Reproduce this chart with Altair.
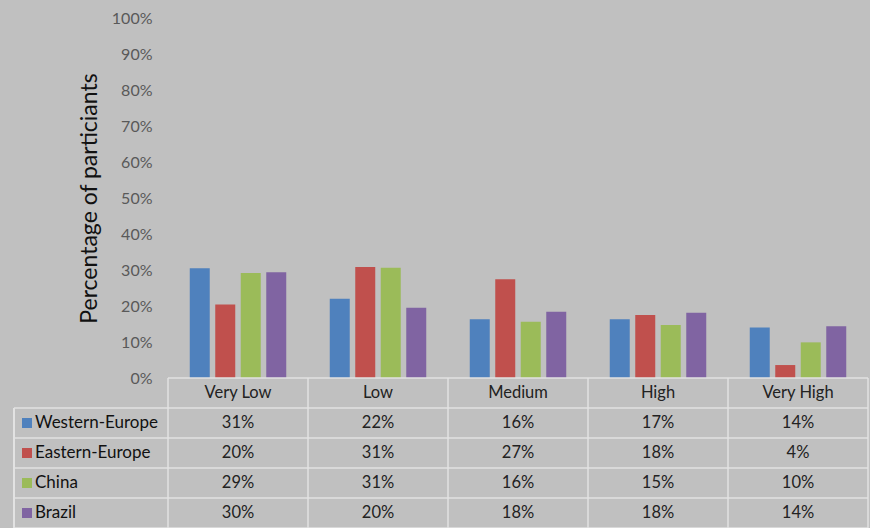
import altair as alt
import pandas as pd

categories = ["Very Low", "Low", "Medium", "High", "Very High"]
series = ["Western-Europe", "Eastern-Europe", "China", "Brazil"]
colors = ["#4f81bd", "#c0504d", "#9bbb59", "#8064a2"]

# bar heights (percent)
bar_values = {
    "Western-Europe": [30.5, 22.0, 16.3, 16.3, 14.0],
    "Eastern-Europe": [20.4, 30.8, 27.4, 17.5, 3.6],
    "China": [29.2, 30.6, 15.6, 14.7, 9.9],
    "Brazil": [29.4, 19.5, 18.4, 18.1, 14.4],
}
# values printed in the data table
table_values = {
    "Western-Europe": ["31%", "22%", "16%", "17%", "14%"],
    "Eastern-Europe": ["20%", "31%", "27%", "18%", "4%"],
    "China": ["29%", "31%", "16%", "15%", "10%"],
    "Brazil": ["30%", "20%", "18%", "18%", "14%"],
}
y_ticks = [0, 10, 20, 30, 40, 50, 60, 70, 80, 90, 100]

FONT = "Lato"
W, H = 700, 360
ROW_H = 30
LABEL_COL = 154
rows = ["header"] + series
GRID = "#e2e2e2"

bars_df = pd.DataFrame(
    [{"cat": c, "series": s, "value": bar_values[s][i] / 100}
     for s in series for i, c in enumerate(categories)]
)
cells_df = pd.DataFrame(
    [{"cat": c, "row": s, "label": table_values[s][i]}
     for s in series for i, c in enumerate(categories)]
)
header_df = pd.DataFrame({"cat": categories, "row": ["header"] * len(categories)})
rowlab_df = pd.DataFrame({"row": series, "series": series})

x_enc = alt.X("cat:N", sort=categories,
              scale=alt.Scale(domain=categories, paddingInner=0, paddingOuter=0),
              axis=None)

bars = alt.Chart(bars_df).mark_bar().encode(
    x=x_enc,
    xOffset=alt.XOffset("series:N", sort=series,
                        scale=alt.Scale(domain=series, paddingInner=0.216, paddingOuter=0.853)),
    y=alt.Y("value:Q",
            scale=alt.Scale(domain=[0, 1], nice=False),
            axis=alt.Axis(values=[v / 100 for v in y_ticks], format=".0%",
                          grid=False, domain=False, ticks=False,
                          labelPadding=16, labelFontSize=16, labelColor="#595959",
                          labelFont=FONT,
                          title="Percentage of particiants", titleFont=FONT,
                          titleFontSize=23, titleFontWeight="normal",
                          titleColor="#111111", titlePadding=10)),
    color=alt.Color("series:N", sort=series,
                    scale=alt.Scale(domain=series, range=colors), legend=None),
)

tab_scale = alt.Scale(domain=rows, range=[H, H + ROW_H * len(rows)],
                      paddingInner=0, paddingOuter=0)
y_tab = alt.Y("row:N", sort=rows, scale=tab_scale, axis=None)

hline_header = alt.Chart(pd.DataFrame({"row": ["header"]})).mark_rule(
    color=GRID, strokeWidth=1.5).encode(
    y=alt.Y("row:N", sort=rows, bandPosition=0, scale=tab_scale, axis=None),
    x=alt.value(0), x2=alt.value(W))
hline_rows = alt.Chart(pd.DataFrame({"row": series})).mark_rule(
    color=GRID, strokeWidth=1.5).encode(
    y=alt.Y("row:N", sort=rows, bandPosition=0, scale=tab_scale, axis=None),
    x=alt.value(-LABEL_COL), x2=alt.value(W))
hline_bottom = alt.Chart(pd.DataFrame({"row": ["Brazil"]})).mark_rule(
    color=GRID, strokeWidth=1.5).encode(
    y=alt.Y("row:N", sort=rows, bandPosition=1, scale=tab_scale, axis=None),
    x=alt.value(-LABEL_COL), x2=alt.value(W))

vlines = alt.Chart(pd.DataFrame({"cat": categories})).mark_rule(
    color=GRID, strokeWidth=1.5).encode(
    x=alt.X("cat:N", sort=categories, bandPosition=0,
            scale=alt.Scale(domain=categories, paddingInner=0, paddingOuter=0), axis=None),
    y=alt.value(H), y2=alt.value(H + ROW_H * len(rows)))
vline_right = alt.Chart(pd.DataFrame({"cat": [categories[-1]]})).mark_rule(
    color=GRID, strokeWidth=1.5).encode(
    x=alt.X("cat:N", sort=categories, bandPosition=1,
            scale=alt.Scale(domain=categories, paddingInner=0, paddingOuter=0), axis=None),
    y=alt.value(H), y2=alt.value(H + ROW_H * len(rows)))
vline_left = alt.Chart(pd.DataFrame({"row": series})).mark_rule(
    color=GRID, strokeWidth=1.5).encode(
    x=alt.value(-LABEL_COL), x2=alt.value(-LABEL_COL),
    y=alt.value(H + ROW_H), y2=alt.value(H + ROW_H * len(rows)))

header_text = alt.Chart(header_df).mark_text(
    font=FONT, fontSize=16.5, color="#222222", baseline="middle").encode(
    x=x_enc, y=y_tab, text="cat:N")

cell_text = alt.Chart(cells_df).mark_text(
    font=FONT, fontSize=16.5, color="#222222", baseline="middle").encode(
    x=x_enc, y=y_tab, text="label:N")

swatches = alt.Chart(rowlab_df).mark_square(size=100, opacity=1).encode(
    x=alt.value(-LABEL_COL + 13), y=y_tab,
    color=alt.Color("series:N", sort=series,
                    scale=alt.Scale(domain=series, range=colors), legend=None))

row_text = alt.Chart(rowlab_df).mark_text(
    font=FONT, fontSize=17, color="#111111", align="left", baseline="middle").encode(
    x=alt.value(-LABEL_COL + 21), y=y_tab, text="series:N")

table = alt.layer(hline_header, hline_rows, hline_bottom, vlines, vline_right,
                  vline_left, header_text, cell_text, swatches, row_text)

chart = alt.layer(bars, table).resolve_scale(y="independent").properties(
    width=W, height=H,
    autosize=alt.AutoSizeParams(type="none"),
    padding={"left": 168, "top": 18, "right": 2, "bottom": 150},
    background="#c0c0c0",
).configure_view(stroke=None)

chart.save("out.html", embed_options={"renderer": "svg", "actions": False})
